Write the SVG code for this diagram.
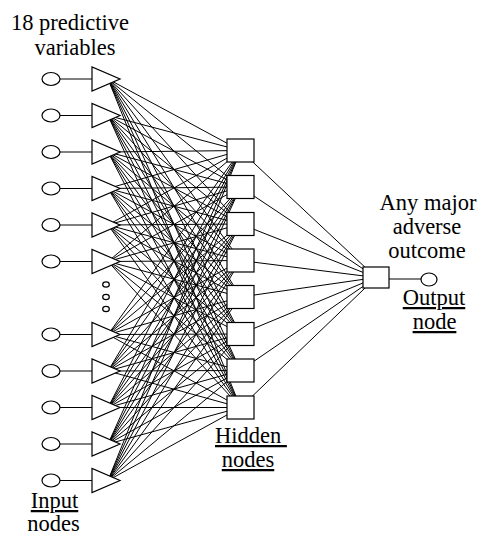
<svg xmlns="http://www.w3.org/2000/svg" width="483" height="536" viewBox="0 0 483 536">
<style>
.ln{stroke:#000;stroke-width:1;fill:none}
.sh{stroke:#000;stroke-width:1.2;fill:#fff}
.t{font-size:22.5px;fill:#000}
.u{text-decoration:underline}
</style>
<rect width="483" height="536" fill="#fff"/>
<g id="connectors" class="ln">
<path d="M108 79L240.5 150.5M108 79L240.5 187M108 79L240.5 224M108 79L240.5 260.5M108 79L240.5 297M108 79L240.5 334M108 79L240.5 370.5M108 79L240.5 407.5"/>
<path d="M108 115.5L240.5 150.5M108 115.5L240.5 187M108 115.5L240.5 224M108 115.5L240.5 260.5M108 115.5L240.5 297M108 115.5L240.5 334M108 115.5L240.5 370.5M108 115.5L240.5 407.5"/>
<path d="M108 152L240.5 150.5M108 152L240.5 187M108 152L240.5 224M108 152L240.5 260.5M108 152L240.5 297M108 152L240.5 334M108 152L240.5 370.5M108 152L240.5 407.5"/>
<path d="M108 188.5L240.5 150.5M108 188.5L240.5 187M108 188.5L240.5 224M108 188.5L240.5 260.5M108 188.5L240.5 297M108 188.5L240.5 334M108 188.5L240.5 370.5M108 188.5L240.5 407.5"/>
<path d="M108 225L240.5 150.5M108 225L240.5 187M108 225L240.5 224M108 225L240.5 260.5M108 225L240.5 297M108 225L240.5 334M108 225L240.5 370.5M108 225L240.5 407.5"/>
<path d="M108 261.5L240.5 150.5M108 261.5L240.5 187M108 261.5L240.5 224M108 261.5L240.5 260.5M108 261.5L240.5 297M108 261.5L240.5 334M108 261.5L240.5 370.5M108 261.5L240.5 407.5"/>
<path d="M108 334.5L240.5 150.5M108 334.5L240.5 187M108 334.5L240.5 224M108 334.5L240.5 260.5M108 334.5L240.5 297M108 334.5L240.5 334M108 334.5L240.5 370.5M108 334.5L240.5 407.5"/>
<path d="M108 371L240.5 150.5M108 371L240.5 187M108 371L240.5 224M108 371L240.5 260.5M108 371L240.5 297M108 371L240.5 334M108 371L240.5 370.5M108 371L240.5 407.5"/>
<path d="M108 407.5L240.5 150.5M108 407.5L240.5 187M108 407.5L240.5 224M108 407.5L240.5 260.5M108 407.5L240.5 297M108 407.5L240.5 334M108 407.5L240.5 370.5M108 407.5L240.5 407.5"/>
<path d="M108 444L240.5 150.5M108 444L240.5 187M108 444L240.5 224M108 444L240.5 260.5M108 444L240.5 297M108 444L240.5 334M108 444L240.5 370.5M108 444L240.5 407.5"/>
<path d="M108 480.5L240.5 150.5M108 480.5L240.5 187M108 480.5L240.5 224M108 480.5L240.5 260.5M108 480.5L240.5 297M108 480.5L240.5 334M108 480.5L240.5 370.5M108 480.5L240.5 407.5"/>
<path d="M240.5 150.5L376 277.5M240.5 187L376 277.5M240.5 224L376 277.5M240.5 260.5L376 277.5M240.5 297L376 277.5M240.5 334L376 277.5M240.5 370.5L376 277.5M240.5 407.5L376 277.5"/>
</g>
<g id="in1"><ellipse class="sh" cx="51" cy="79" rx="9" ry="6.5"/><line class="ln" x1="60" y1="79" x2="92" y2="79"/><polygon class="sh" points="92,67 92,91 120,79"/></g>
<g id="in2"><ellipse class="sh" cx="51" cy="115.5" rx="9" ry="6.5"/><line class="ln" x1="60" y1="115.5" x2="92" y2="115.5"/><polygon class="sh" points="92,103.5 92,127.5 120,115.5"/></g>
<g id="in3"><ellipse class="sh" cx="51" cy="152" rx="9" ry="6.5"/><line class="ln" x1="60" y1="152" x2="92" y2="152"/><polygon class="sh" points="92,140 92,164 120,152"/></g>
<g id="in4"><ellipse class="sh" cx="51" cy="188.5" rx="9" ry="6.5"/><line class="ln" x1="60" y1="188.5" x2="92" y2="188.5"/><polygon class="sh" points="92,176.5 92,200.5 120,188.5"/></g>
<g id="in5"><ellipse class="sh" cx="51" cy="225" rx="9" ry="6.5"/><line class="ln" x1="60" y1="225" x2="92" y2="225"/><polygon class="sh" points="92,213 92,237 120,225"/></g>
<g id="in6"><ellipse class="sh" cx="51" cy="261.5" rx="9" ry="6.5"/><line class="ln" x1="60" y1="261.5" x2="92" y2="261.5"/><polygon class="sh" points="92,249.5 92,273.5 120,261.5"/></g>
<g id="ellipsis"><ellipse class="sh" cx="106" cy="284.5" rx="3.3" ry="2.6"/><ellipse class="sh" cx="106" cy="297" rx="3.3" ry="2.6"/><ellipse class="sh" cx="106" cy="309" rx="3.3" ry="2.6"/></g>
<g id="in7"><ellipse class="sh" cx="51" cy="334.5" rx="9" ry="6.5"/><line class="ln" x1="60" y1="334.5" x2="92" y2="334.5"/><polygon class="sh" points="92,322.5 92,346.5 120,334.5"/></g>
<g id="in8"><ellipse class="sh" cx="51" cy="371" rx="9" ry="6.5"/><line class="ln" x1="60" y1="371" x2="92" y2="371"/><polygon class="sh" points="92,359 92,383 120,371"/></g>
<g id="in9"><ellipse class="sh" cx="51" cy="407.5" rx="9" ry="6.5"/><line class="ln" x1="60" y1="407.5" x2="92" y2="407.5"/><polygon class="sh" points="92,395.5 92,419.5 120,407.5"/></g>
<g id="in10"><ellipse class="sh" cx="51" cy="444" rx="9" ry="6.5"/><line class="ln" x1="60" y1="444" x2="92" y2="444"/><polygon class="sh" points="92,432 92,456 120,444"/></g>
<g id="in11"><ellipse class="sh" cx="51" cy="480.5" rx="9" ry="6.5"/><line class="ln" x1="60" y1="480.5" x2="92" y2="480.5"/><polygon class="sh" points="92,468.5 92,492.5 120,480.5"/></g>
<g id="h1"><rect class="sh" x="227" y="139" width="27" height="23"/></g>
<g id="h2"><rect class="sh" x="227" y="175.5" width="27" height="23"/></g>
<g id="h3"><rect class="sh" x="227" y="212.5" width="27" height="23"/></g>
<g id="h4"><rect class="sh" x="227" y="249" width="27" height="23"/></g>
<g id="h5"><rect class="sh" x="227" y="285.5" width="27" height="23"/></g>
<g id="h6"><rect class="sh" x="227" y="322.5" width="27" height="23"/></g>
<g id="h7"><rect class="sh" x="227" y="359" width="27" height="23"/></g>
<g id="h8"><rect class="sh" x="227" y="396" width="27" height="23"/></g>
<g id="out"><rect class="sh" x="363" y="267" width="26" height="21"/><line class="ln" x1="389" y1="279" x2="421" y2="279"/><ellipse class="sh" cx="429" cy="279.5" rx="8" ry="6.5"/></g>
<g id="labels" font-family="Liberation Serif, DejaVu Serif, serif">
<text class="t" x="70" y="30" text-anchor="middle">18 predictive</text>
<text class="t" x="75" y="55" text-anchor="middle">variables</text>
<text class="t u" x="54.5" y="508" text-anchor="middle">Input</text>
<text class="t" x="53.5" y="531" text-anchor="middle">nodes</text>
<text class="t u" x="215" y="443" style="white-space:pre">Hidden </text>
<text class="t u" x="248" y="467" text-anchor="middle">nodes</text>
<text class="t" x="428" y="210" text-anchor="middle">Any major</text>
<text class="t" x="427" y="234" text-anchor="middle">adverse</text>
<text class="t" x="427" y="258" text-anchor="middle">outcome</text>
<text class="t u" x="434" y="305" text-anchor="middle">Output</text>
<text class="t u" x="434.5" y="329" text-anchor="middle">node</text>
</g>
</svg>
